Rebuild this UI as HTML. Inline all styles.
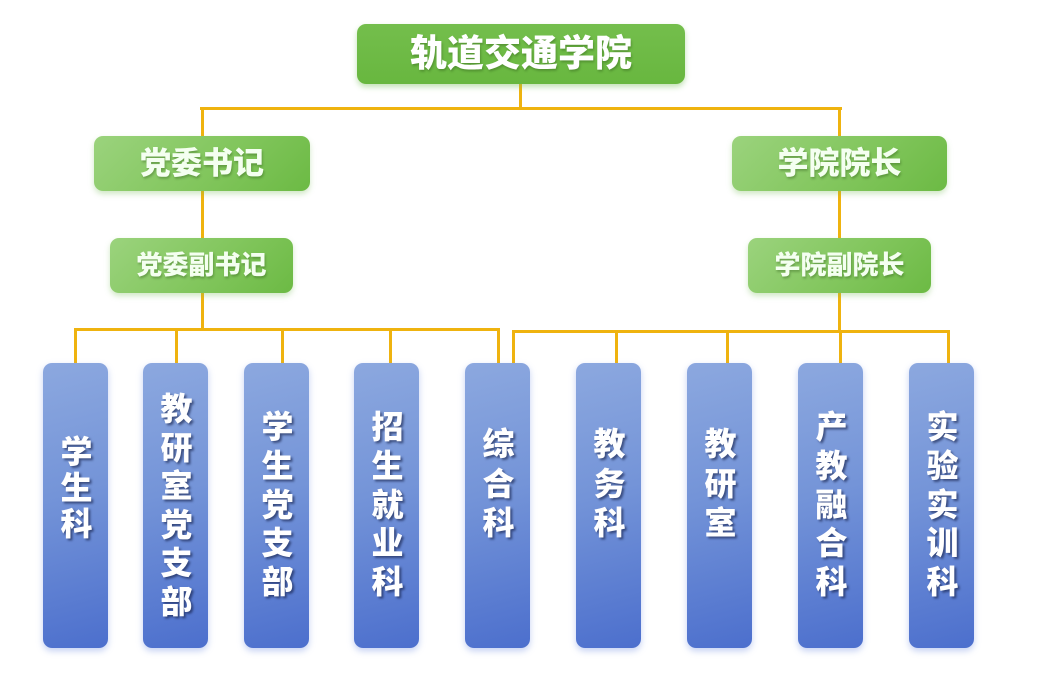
<!DOCTYPE html>
<html>
<head>
<meta charset="utf-8">
<style>
html,body{margin:0;padding:0;background:#fff;}
body{width:1048px;height:675px;position:relative;overflow:hidden;font-family:"Liberation Sans","Noto Sans CJK SC",sans-serif;}
.ln{position:absolute;background:#efb30f;}
.g1{position:absolute;left:357px;top:24px;width:328px;height:60px;border-radius:9px;background:linear-gradient(180deg,#74be4c,#68b73f);box-shadow:0 3px 6px rgba(120,190,90,0.45);color:#fff;font-weight:900;font-size:37px;line-height:60px;text-align:center;letter-spacing:0px;text-shadow:1px 2px 2px rgba(40,80,20,0.35);}
.g2{position:absolute;border-radius:9px;background:linear-gradient(135deg,#9bd37d 0%,#82c65d 55%,#6cba44 100%);box-shadow:0 3px 6px rgba(120,190,90,0.35);color:#f4fff0;font-weight:900;text-align:center;text-shadow:1px 2px 2px rgba(40,80,20,0.35);}
.b{position:absolute;top:363px;height:285px;width:65px;border-radius:9px;background:linear-gradient(165deg,#8ca8df 0%,#7494d8 45%,#4c6fcd 100%);box-shadow:0 3px 7px rgba(110,140,225,0.4);}
.b span{position:absolute;left:1px;width:100%;text-align:center;color:#fff;font-weight:900;font-size:32px;text-shadow:2px 2px 2px rgba(20,30,70,0.6);}
</style>
</head>
<body>
<!-- connectors -->
<div class="ln" style="left:519px;top:84px;width:3px;height:26px;"></div>
<div class="ln" style="left:200px;top:107px;width:642px;height:3px;"></div>
<div class="ln" style="left:201px;top:107px;width:3px;height:30px;"></div>
<div class="ln" style="left:838px;top:107px;width:3px;height:30px;"></div>
<div class="ln" style="left:201px;top:190px;width:3px;height:49px;"></div>
<div class="ln" style="left:838px;top:190px;width:3px;height:49px;"></div>
<div class="ln" style="left:201px;top:292px;width:3px;height:38px;"></div>
<div class="ln" style="left:838px;top:292px;width:3px;height:40px;"></div>
<div class="ln" style="left:74px;top:328px;width:426px;height:3px;"></div>
<div class="ln" style="left:512px;top:330px;width:438px;height:3px;"></div>
<div class="ln" style="left:74px;top:328px;width:3px;height:36px;"></div>
<div class="ln" style="left:175px;top:328px;width:3px;height:36px;"></div>
<div class="ln" style="left:281px;top:328px;width:3px;height:36px;"></div>
<div class="ln" style="left:389px;top:328px;width:3px;height:36px;"></div>
<div class="ln" style="left:497px;top:328px;width:3px;height:36px;"></div>
<div class="ln" style="left:512px;top:330px;width:3px;height:34px;"></div>
<div class="ln" style="left:615px;top:330px;width:3px;height:34px;"></div>
<div class="ln" style="left:726px;top:330px;width:3px;height:34px;"></div>
<div class="ln" style="left:839px;top:330px;width:3px;height:34px;"></div>
<div class="ln" style="left:947px;top:330px;width:3px;height:34px;"></div>

<!-- green nodes -->
<div class="g1">轨道交通学院</div>
<div class="g2" style="left:94px;top:136px;width:216px;height:55px;font-size:31px;line-height:55px;">党委书记</div>
<div class="g2" style="left:110px;top:238px;width:183px;height:55px;font-size:26px;line-height:55px;">党委副书记</div>
<div class="g2" style="left:732px;top:136px;width:215px;height:55px;font-size:31px;line-height:55px;">学院院长</div>
<div class="g2" style="left:748px;top:238px;width:183px;height:55px;font-size:26px;line-height:55px;">学院副院长</div>

<!-- blue nodes -->
<div class="b" style="left:43px;"><span style="top:71px;line-height:36px;">学<br>生<br>科</span></div>
<div class="b" style="left:143px;"><span style="top:27px;line-height:38.6px;">教<br>研<br>室<br>党<br>支<br>部</span></div>
<div class="b" style="left:244px;"><span style="top:45px;line-height:38.8px;">学<br>生<br>党<br>支<br>部</span></div>
<div class="b" style="left:354px;"><span style="top:45px;line-height:38.8px;">招<br>生<br>就<br>业<br>科</span></div>
<div class="b" style="left:465px;"><span style="top:62px;line-height:39.5px;">综<br>合<br>科</span></div>
<div class="b" style="left:576px;"><span style="top:62px;line-height:39.5px;">教<br>务<br>科</span></div>
<div class="b" style="left:687px;"><span style="top:62px;line-height:39.5px;">教<br>研<br>室</span></div>
<div class="b" style="left:798px;"><span style="top:45px;line-height:38.8px;">产<br>教<br>融<br>合<br>科</span></div>
<div class="b" style="left:909px;"><span style="top:45px;line-height:38.8px;">实<br>验<br>实<br>训<br>科</span></div>
</body>
</html>
